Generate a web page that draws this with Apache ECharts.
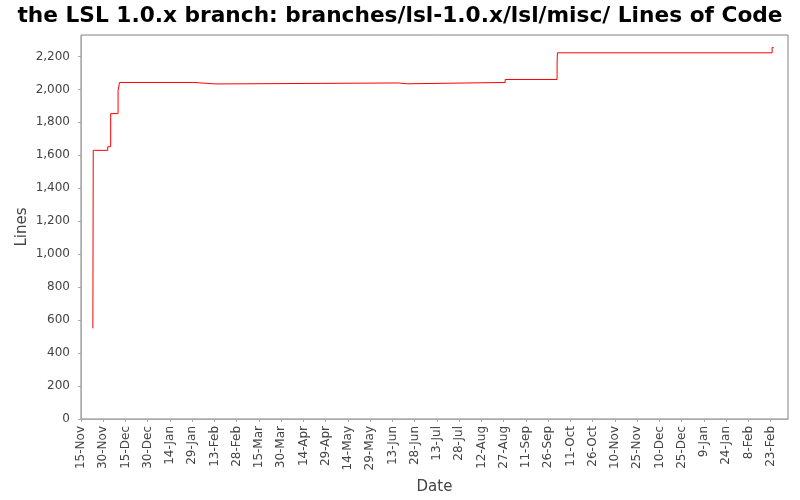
<!DOCTYPE html>
<html>
<head>
    <meta charset="utf-8">
    <script src="https://cdn.jsdelivr.net/npm/echarts@6/dist/echarts.min.js"></script>
    <style>
        html, body { margin: 0; padding: 0; background: #fff; }
    </style>
</head>
<body>
<div id="main" style="width: 800px;height: 500px;"></div>
<script type="text/javascript">
    // commit dates and line counts
    var commitDates = ['2004-11-23 00:00', '2004-11-23 06:00', '2004-12-03', '2004-12-05', '2004-12-10',
        '2004-12-11', '2005-01-30', '2005-02-14', '2005-06-17', '2005-06-23', '2005-08-28',
        '2005-10-02 00:00', '2005-10-02 06:00', '2006-02-24', '2006-02-25'];
    var lineCounts = [550, 1630, 1652, 1853, 1992, 2042, 2033, 2039, 2034, 2042, 2060, 2160, 2222, 2254, 2254];

    // x tick labels, one every 15 days starting at 15-Nov-2004
    var tickLabels = ['15-Nov', '30-Nov', '15-Dec', '30-Dec', '14-Jan', '29-Jan', '13-Feb', '28-Feb',
        '15-Mar', '30-Mar', '14-Apr', '29-Apr', '14-May', '29-May', '13-Jun', '28-Jun', '13-Jul',
        '28-Jul', '12-Aug', '27-Aug', '11-Sep', '26-Sep', '11-Oct', '26-Oct', '10-Nov', '25-Nov',
        '10-Dec', '25-Dec', '9-Jan', '24-Jan', '8-Feb', '23-Feb'];

    var baseDay = Date.UTC(2004, 10, 15);

    // days since 15-Nov-2004
    function toDay(s) {
        var parts = s.split(' ');
        var d = parts[0].split('-');
        var hm = (parts[1] || '00:00').split(':');
        var t = Date.UTC(+d[0], +d[1] - 1, +d[2], +hm[0], +hm[1]);
        return (t - baseDay) / 86400000;
    }

    // value holds until the next commit, then jumps (step line)
    var points = [];
    for (var i = 0; i < commitDates.length; i++) {
        var x = toDay(commitDates[i]);
        if (i > 0) points.push([x, lineCounts[i - 1]]);
        points.push([x, lineCounts[i]]);
    }

    var font = 'DejaVu Sans';
    var myChart = echarts.init(document.getElementById('main'));

    var option = {
        backgroundColor: '#fff',
        animation: false,
        title: {
            text: 'the LSL 1.0.x branch: branches/lsl-1.0.x/lsl/misc/ Lines of Code',
            left: 'center',
            top: 0,
            textStyle: { fontFamily: font, fontSize: 21.7, fontWeight: 'bold', color: '#000' }
        },
        grid: {
            left: 81,
            right: 12,
            top: 35,
            bottom: 79,
            show: true,
            borderColor: '#808080',
            borderWidth: 1,
            backgroundColor: '#fff'
        },
        xAxis: {
            type: 'value',
            min: 0,
            max: 476.7,
            interval: 15,
            offset: 3,
            name: 'Date',
            nameLocation: 'middle',
            nameGap: 58,
            nameMoveOverlap: false,
            nameTextStyle: { fontFamily: font, fontSize: 15, color: '#444' },
            axisLine: { show: true, lineStyle: { color: '#aaa' } },
            axisTick: { show: true, length: 3, lineStyle: { color: '#aaa' } },
            splitLine: { show: false },
            axisLabel: {
                rotate: 90,
                fontFamily: font,
                fontSize: 12,
                color: '#444',
                margin: 4,
                showMaxLabel: false,
                formatter: function (v) {
                    var k = Math.round(v / 15);
                    if (Math.abs(v - k * 15) > 0.01) return '';
                    return tickLabels[k] || '';
                }
            }
        },
        yAxis: {
            type: 'value',
            min: 0,
            max: 2330,
            interval: 200,
            offset: 3,
            name: 'Lines',
            nameLocation: 'middle',
            nameGap: 48,
            nameMoveOverlap: false,
            nameTextStyle: { fontFamily: font, fontSize: 15, color: '#444' },
            axisLine: { show: true, lineStyle: { color: '#aaa' } },
            axisTick: { show: true, length: 3, lineStyle: { color: '#aaa' } },
            splitLine: { show: false },
            axisLabel: {
                fontFamily: font,
                fontSize: 12,
                color: '#444',
                margin: 8,
                showMaxLabel: false,
                formatter: function (v) {
                    return v.toLocaleString('en-US');
                }
            }
        },
        series: [{
            name: 'Lines',
            type: 'line',
            showSymbol: false,
            symbol: 'none',
            lineStyle: { color: '#ff0000', width: 1 },
            data: points
        }]
    };

    myChart.setOption(option);
</script>
</body>
</html>
